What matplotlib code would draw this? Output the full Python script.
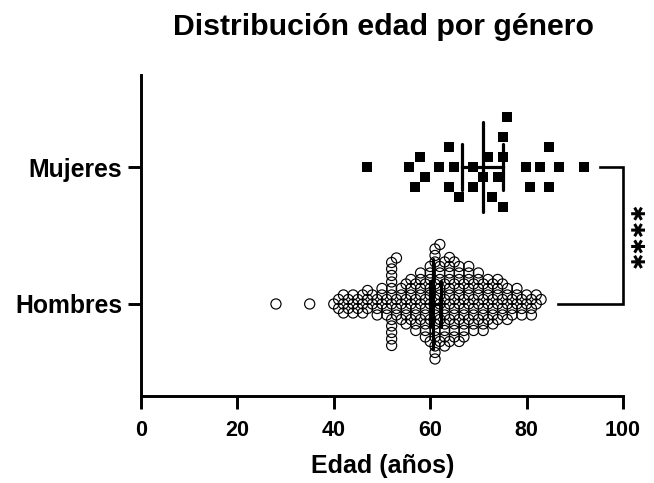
import numpy as np
import matplotlib
matplotlib.use("Agg")
import matplotlib.pyplot as plt

plt.rcParams['font.family'] = ['Liberation Sans', 'DejaVu Sans']

# ---------------- data ----------------
categorias = ["Hombres", "Mujeres"]

mujeres_edad = [46.8, 55.7, 56.8, 57.9, 58.9, 61.8, 63.8, 63.8, 65.0, 66.0,
                68.8, 68.8, 71.0, 72.0, 72.8, 74.0, 75.0, 75.0, 75.2, 76.0,
                79.8, 80.8, 82.8, 84.6, 84.6, 86.7, 92.0]

hombres_edades = [28, 35, 40, 41, 42, 43, 44, 45, 46, 47, 48, 49, 50, 51, 52,
                  53, 54, 55, 56, 57, 58, 59, 60, 61, 62, 63, 64, 65, 66, 67,
                  68, 69, 70, 71, 72, 73, 74, 75, 76, 77, 78, 79, 80, 81, 82, 83]
hombres_conteo = [1, 1, 1, 2, 3, 2, 3, 2, 3, 3, 2, 3, 3, 3, 12,
                  4, 4, 5, 5, 6, 6, 7, 8, 13, 9, 9, 9, 8, 8, 7,
                  7, 6, 6, 6, 5, 5, 5, 4, 4, 3, 3, 3, 2, 3, 2, 1]

# median and interval (low, median, high) as drawn
mujeres_resumen = [66.5, 71.0, 75.2]
hombres_resumen = [60.0, 60.6, 62.2]

significancia = "✱✱✱✱"
xticks = [0, 20, 40, 60, 80, 100]

hombres_edad = np.repeat(np.array(hombres_edades, float), hombres_conteo)
mujeres_edad = np.array(mujeres_edad, float)

# ---------------- layout ----------------
W, H = 654, 483
fig = plt.figure(figsize=(W / 100, H / 100), dpi=100)
ax = fig.add_axes([141 / W, 87 / H, 482 / W, 321 / H])
ax.set_xlim(0, 100)
ax.set_ylim(-0.672, 1.672)

xpx = 482 / 100.0          # px per year
ypx = 321 / 2.344          # px per category unit


def swarm(vals, d, step, maxk=200):
    xs = vals * xpx
    order = np.argsort(vals, kind="stable")
    cand = [0.0]
    for k in range(1, maxk):
        cand += [k * step, -k * step]
    px, py = [], []
    offs = np.zeros(len(vals))
    for i in order:
        ax_ = np.array(px)
        ay_ = np.array(py)
        for c in cand:
            if len(ax_) == 0 or np.all((ax_ - xs[i]) ** 2 + (ay_ - c) ** 2 >= d * d - 1e-9):
                break
        offs[i] = c
        px.append(xs[i])
        py.append(c)
    return offs / ypx


y_h = 0 + swarm(hombres_edad, 6.3, 0.5)
y_m = 1 - swarm(mujeres_edad, 14.0, 10.0)

ax.scatter(hombres_edad, y_h, s=7.3 ** 2, facecolors="none",
           edgecolors="black", linewidths=0.85, zorder=3)
ax.scatter(mujeres_edad, y_m, marker="s", s=7.0 ** 2, color="black",
           linewidths=0, zorder=3)

# median + interval lines
for cat, (lo, med, hi) in zip([0, 1], [hombres_resumen, mujeres_resumen]):
    ax.plot([med, med], [cat - 0.33, cat + 0.33], color="black", lw=2.3,
            solid_capstyle="round", zorder=4)
    ax.plot([lo, lo], [cat - 0.17, cat + 0.17], color="black", lw=2.3,
            solid_capstyle="round", zorder=4)
    ax.plot([hi, hi], [cat - 0.17, cat + 0.17], color="black", lw=2.3,
            solid_capstyle="round", zorder=4)
    ax.plot([lo, hi], [cat, cat], color="black", lw=2.3, zorder=4)

# significance bracket
ax.plot([95.3, 100, 100, 86.5], [1, 1, 0, 0], color="black", lw=1.9,
        clip_on=False, zorder=5, solid_joinstyle="miter")
ax.text(103.4, 0.5, significancia, rotation=90, ha="center", va="center",
        fontsize=14, fontweight="bold", family=["DejaVu Sans"], clip_on=False)

# axes styling
for s in ["top", "right"]:
    ax.spines[s].set_visible(False)
for s in ["left", "bottom"]:
    ax.spines[s].set_linewidth(2.1)
ax.set_xticks(xticks)
ax.set_xticklabels([str(t) for t in xticks], fontsize=15.5, fontweight="bold")
ax.set_yticks([0, 1])
ax.set_yticklabels(categorias, fontsize=17.8, fontweight="bold")
ax.tick_params(axis="both", width=2.1, length=9.5, direction="out")
ax.tick_params(axis="x", pad=8)
ax.tick_params(axis="y", pad=4)

fig.text(383 / W, 1 - 27 / H, "Distribución edad por género", ha="center",
         va="center", fontsize=21.8, fontweight="bold")
fig.text(383 / W, 1 - 466 / H, "Edad (años)", ha="center", va="center",
         fontsize=18, fontweight="bold")

fig.savefig("out.png", dpi=100)
